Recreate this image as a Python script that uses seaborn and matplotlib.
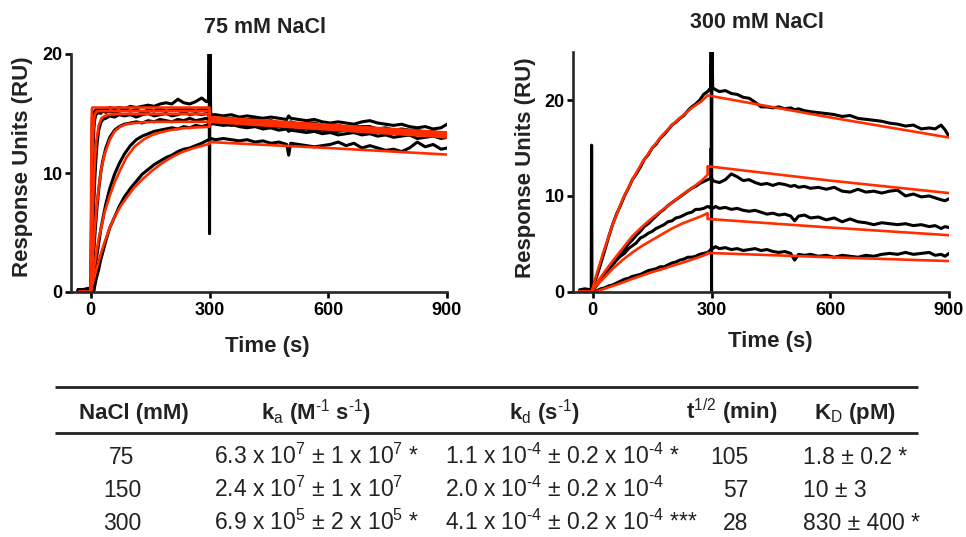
import matplotlib
matplotlib.use("Agg")
import matplotlib.pyplot as plt
import seaborn as sns
import pandas as pd
from matplotlib import font_manager

# --- Sensorgram data (time in s, response in RU) ---

# 75 mM NaCl: shared time grid of the black traces
time_75 = [-32, -20, -8, -2, 0, 2, 4, 6, 8, 10,
           13, 16, 20, 25, 30, 38, 48, 60, 72, 85,
           100, 115, 130, 145, 160, 175, 190, 205, 220, 235,
           250, 265, 280, 292, 298, 299, 300, 301, 303, 315,
           335, 355, 375, 395, 415, 435, 455, 475, 495, 500,
           505, 525, 545, 565, 585, 605, 625, 645, 665, 685,
           705, 725, 745, 765, 785, 805, 825, 845, 865, 885,
           900]

trace_75_a = [0.2, 0.2, 0.3, 0.3, 0.5, 8.0, 14.6, 15.0, 15.1, 15.2,
              15.3, 15.2, 15.4, 15.3, 15.4, 15.3, 15.5, 15.4, 15.5, 15.4,
              15.6, 15.5, 15.6, 15.7, 15.6, 15.8, 15.9, 15.8, 16.2, 15.9,
              15.8, 16.0, 16.3, 16.0, 16.1, 21.0, 4.9, 21.0, 14.9, 14.9,
              14.8, 14.9, 14.7, 14.8, 14.7, 14.6, 14.7, 14.6, 14.5, 14.8,
              14.6, 14.5, 14.4, 14.5, 14.3, 14.2, 14.3, 14.2, 14.1, 14.3,
              14.4, 14.2, 14.1, 14.0, 14.1, 13.9, 13.8, 13.9, 13.7, 13.8,
              14.1]
trace_75_b = [0.2, 0.2, 0.2, 0.3, 0.3, 4.0, 9.0, 12.2, 13.8, 14.5,
              14.9, 15.0, 15.1, 15.0, 15.2, 15.1, 15.2, 15.1, 15.2, 15.3,
              15.2, 15.3, 15.1, 15.3, 15.2, 15.4, 15.2, 15.3, 15.4, 15.3,
              15.4, 15.2, 15.4, 15.3, 15.2, 15.0, 14.9, 14.8, 14.6, 14.6,
              14.5, 14.6, 14.4, 14.5, 14.5, 14.3, 14.4, 14.2, 14.3, 14.2,
              14.3, 14.1, 14.2, 14.2, 14.0, 13.9, 14.0, 13.8, 13.9, 13.9,
              13.9, 13.7, 13.8, 13.6, 13.7, 13.6, 13.6, 13.4, 13.5, 13.3,
              13.4]
trace_75_c = [0.2, 0.2, 0.2, 0.2, 0.2, 1.5, 3.5, 5.8, 7.8, 9.4,
              11.2, 12.5, 13.6, 14.2, 14.5, 14.6, 14.8, 14.7, 14.9, 14.8,
              14.9, 14.7, 14.9, 15.0, 14.8, 14.9, 15.0, 14.8, 14.9, 15.1,
              14.9, 15.0, 14.9, 15.0, 14.9, 14.8, 14.7, 14.6, 14.5, 14.4,
              14.3, 14.4, 14.3, 14.2, 14.1, 14.2, 14.1, 14.0, 13.9, 14.0,
              13.9, 13.9, 13.8, 13.7, 13.8, 13.6, 13.7, 13.6, 13.5, 13.5,
              13.6, 13.4, 13.5, 13.4, 13.3, 13.2, 13.3, 13.2, 13.2, 13.0,
              13.2]
trace_75_d = [0.1, 0.1, 0.2, 0.2, 0.1, 0.6, 1.5, 2.6, 3.6, 4.6,
              6.0, 7.2, 8.6, 10.0, 11.0, 12.1, 13.0, 13.6, 13.9, 14.1,
              14.2, 14.3, 14.2, 14.4, 14.3, 14.5, 14.4, 14.3, 14.5, 14.4,
              14.6, 14.4, 14.5, 14.6, 14.5, 14.4, 14.3, 14.3, 14.2, 14.1,
              14.0, 14.1, 13.9, 13.8, 13.9, 13.7, 13.8, 13.6, 13.7, 13.5,
              13.6, 13.5, 13.4, 13.5, 13.3, 13.4, 13.2, 13.3, 13.4, 13.2,
              13.3, 13.1, 13.2, 13.0, 13.1, 13.2, 12.9, 13.0, 13.1, 12.9,
              13.0]
trace_75_e = [0.1, 0.1, 0.1, 0.1, 0.05, 0.1, 0.4, 0.8, 1.2, 1.7,
              2.5, 3.2, 4.1, 5.2, 6.1, 7.4, 8.7, 9.9, 10.8, 11.6,
              12.3, 12.8, 13.1, 13.3, 13.5, 13.6, 13.7, 13.8, 13.7, 13.9,
              13.8, 14.0, 13.9, 14.0, 14.1, 14.0, 14.2, 14.1, 14.1, 14.2,
              14.1, 14.0, 14.1, 13.9, 14.0, 13.9, 13.8, 13.9, 13.7, 13.8,
              13.7, 13.6, 13.7, 13.5, 13.6, 13.4, 13.5, 13.6, 13.4, 13.3,
              13.4, 13.5, 13.3, 13.4, 13.2, 13.3, 13.4, 13.2, 13.1, 13.3,
              13.4]
trace_75_f = [0.1, 0.1, 0.1, 0.1, 0.0, 0.0, 0.0, 0.0, 0.1, 0.5,
              1.0, 1.4, 1.9, 2.7, 3.3, 4.3, 5.4, 6.3, 7.2, 8.0,
              8.7, 9.3, 9.9, 10.3, 10.7, 11.0, 11.3, 11.5, 11.8, 12.0,
              12.1, 12.3, 12.5, 12.7, 12.8, 12.7, 12.8, 12.8, 12.9, 12.8,
              12.9, 12.8, 12.7, 12.8, 12.6, 12.7, 12.5, 12.6, 12.4, 11.5,
              12.5, 12.4, 12.3, 12.2, 12.3, 12.4, 12.6, 12.3, 12.5, 12.1,
              12.3, 12.1, 11.9, 12.0, 11.8, 12.1, 12.6, 12.2, 12.4, 12.0,
              12.1]

# 75 mM NaCl: fitted curves
fit_time_75 = [-30, 0, 1, 2, 3, 4, 6, 8, 10, 14, 20, 27, 35, 48, 60,
               75, 90, 110, 133, 155, 175, 200, 230, 260, 300, 300, 600, 900]
fit_75_a = [0, 0, 10.0, 14.5, 15.4, 15.5, 15.5, 15.5, 15.5, 15.5, 15.5, 15.5, 15.5, 15.5, 15.5,
            15.5, 15.5, 15.5, 15.5, 15.5, 15.5, 15.5, 15.5, 15.5, 15.5, 14.7, 14.05, 13.4]
fit_75_b = [0, 0, 4.5, 7.5, 9.8, 11.3, 13.3, 14.4, 14.9, 15.15, 15.2, 15.2, 15.2, 15.2, 15.2,
            15.2, 15.2, 15.2, 15.2, 15.2, 15.2, 15.2, 15.2, 15.2, 15.2, 14.6, 13.95, 13.3]
fit_75_c = [0, 0, 1.5, 3.0, 4.4, 5.6, 7.8, 9.5, 10.8, 12.7, 14.0, 14.6, 14.8, 14.9, 14.95,
            14.95, 14.95, 14.95, 14.95, 14.95, 14.95, 14.95, 14.95, 14.95, 14.95, 14.5, 13.85, 13.2]
fit_75_d = [0, 0, 0.6, 1.2, 1.8, 2.3, 3.4, 4.4, 5.3, 6.9, 8.8, 10.4, 11.6, 12.8, 13.5,
            13.9, 14.1, 14.2, 14.25, 14.3, 14.3, 14.3, 14.3, 14.3, 14.3, 14.4, 13.75, 13.1]
fit_75_e = [0, 0, 0.25, 0.5, 0.75, 1.0, 1.5, 2.0, 2.4, 3.3, 4.5, 5.5, 6.7, 8.1, 9.2,
            10.3, 11.3, 12.2, 12.8, 13.2, 13.4, 13.6, 13.75, 13.82, 13.88, 14.3, 13.65, 13.0]
fit_75_f = [0, 0, 0.15, 0.3, 0.45, 0.6, 0.85, 1.1, 1.35, 1.85, 2.6, 3.4, 4.2, 5.4, 6.3,
            7.2, 7.9, 8.8, 9.55, 10.2, 10.7, 11.25, 11.75, 12.1, 12.45, 12.6, 12.1, 11.55]

# 300 mM NaCl: shared time grid of the black traces
time_300 = [-33, -20, -6, -4, -3, -2, 0, 5, 10, 20,
            30, 40, 50, 60, 70, 80, 90, 100, 110, 120,
            130, 140, 150, 160, 170, 180, 190, 200, 210, 220,
            230, 240, 250, 260, 270, 280, 290, 296, 298, 299,
            300, 301, 303, 310, 320, 335, 350, 365, 380, 395,
            410, 425, 440, 455, 470, 485, 500, 510, 520, 535,
            550, 570, 590, 610, 630, 650, 670, 690, 710, 730,
            750, 770, 790, 810, 830, 850, 865, 880, 890, 900]

trace_300_a = [0.2, 0.3, 0.2, 0.3, 0.3, 0.4, 0.5, 1.0, 1.6, 2.9,
               4.3, 5.7, 7.0, 8.1, 9.0, 10.0, 10.8, 11.7, 12.3, 13.0,
               13.8, 14.3, 15.0, 15.4, 16.0, 16.4, 16.9, 17.4, 17.7, 18.1,
               18.4, 18.9, 19.3, 19.6, 20.0, 20.6, 20.9, 21.2, 21.3, 26.0,
               0.0, 26.0, 21.3, 21.1, 20.9, 21.0, 20.7, 20.6, 20.3, 20.2,
               19.8, 19.3, 19.3, 19.2, 19.3, 19.1, 19.2, 19.0, 19.1, 18.9,
               18.8, 18.7, 18.6, 18.5, 18.3, 18.4, 18.1, 18.0, 17.9, 17.8,
               17.6, 17.5, 17.3, 17.4, 17.0, 17.1, 17.0, 17.4, 16.9, 16.2]
trace_300_b = [0.1, 0.1, 0.1, 0.2, 15.3, 0.2, 0.2, 0.4, 0.7, 1.2,
               1.8, 2.3, 2.9, 3.4, 3.9, 4.4, 5.0, 5.4, 5.9, 6.3,
               6.8, 7.1, 7.5, 7.9, 8.3, 8.6, 9.0, 9.3, 9.6, 9.9,
               10.2, 10.5, 10.8, 11.0, 11.3, 11.5, 11.7, 11.8, 11.9, 15.0,
               11.7, 11.8, 11.6, 11.5, 11.4, 11.7, 12.3, 12.0, 11.6, 11.7,
               11.4, 11.2, 11.3, 11.1, 11.3, 11.2, 11.0, 11.1, 10.9, 11.0,
               10.8, 10.9, 10.7, 10.9, 10.5, 10.4, 10.7, 10.4, 10.5, 10.3,
               10.5, 10.6, 10.0, 10.2, 9.9, 10.0, 9.8, 9.6, 9.5, 9.7]
trace_300_c = [0.1, 0.1, 0.1, 0.1, 0.1, 0.1, 0.2, 0.4, 0.7, 1.3,
               1.8, 2.4, 2.8, 3.3, 3.7, 4.0, 4.5, 4.8, 5.1, 5.6,
               5.8, 6.1, 6.3, 6.6, 6.8, 7.0, 7.3, 7.4, 7.7, 7.8,
               8.0, 8.2, 8.3, 8.6, 8.6, 8.7, 8.9, 8.8, 8.9, 8.7,
               8.8, 8.7, 8.7, 8.9, 8.7, 8.8, 8.6, 8.7, 8.5, 8.4,
               8.5, 8.3, 8.1, 8.2, 8.0, 8.1, 7.9, 7.4, 7.9, 8.0,
               7.7, 7.8, 7.5, 7.7, 7.3, 7.6, 7.3, 7.2, 7.0, 7.2,
               7.1, 7.0, 7.1, 6.9, 7.0, 6.8, 6.9, 6.6, 6.8, 6.7]
trace_300_d = [0.1, 0.1, 0.1, 0.1, 0.1, 0.1, 0.0, 0.0, 0.1, 0.3,
               0.4, 0.6, 0.7, 0.9, 1.1, 1.3, 1.4, 1.6, 1.7, 1.8,
               2.0, 2.2, 2.3, 2.4, 2.6, 2.6, 2.8, 3.0, 3.1, 3.3,
               3.4, 3.6, 3.6, 3.7, 3.9, 4.0, 4.1, 4.3, 4.4, 4.5,
               4.4, 4.6, 4.5, 4.7, 4.5, 4.6, 4.4, 4.5, 4.3, 4.4,
               4.5, 4.3, 4.4, 4.2, 4.1, 4.2, 4.0, 3.3, 3.9, 3.8,
               3.9, 3.7, 3.8, 3.6, 3.8, 3.7, 3.6, 3.8, 3.7, 3.9,
               4.0, 3.9, 4.1, 3.9, 4.0, 4.1, 3.8, 3.9, 3.7, 4.0]

# 300 mM NaCl: fitted curves
fit_time_300 = [-35, -3, 0, 8, 25, 50, 75, 100, 125, 150, 175, 200, 225, 250, 275, 290, 290, 600, 900]
fit_300_a = [0, 0, 0.4, 1.6, 3.9, 7.0, 9.6, 11.7, 13.5, 15.0, 16.3, 17.4, 18.3, 19.2, 19.9, 20.5, 20.5, 18.2, 16.1]
fit_300_b = [0, 0, 0.3, 0.8, 1.8, 3.2, 4.5, 5.8, 6.8, 7.7, 8.5, 9.3, 10.1, 10.8, 11.6, 12.2, 13.1, 11.6, 10.3]
fit_300_c = [0, 0, 0.2, 0.6, 1.3, 2.4, 3.3, 4.1, 4.8, 5.4, 6.0, 6.6, 7.1, 7.5, 7.9, 8.2, 7.6, 6.7, 5.9]
fit_300_d = [0, 0, 0, 0, 0.25, 0.6, 0.95, 1.35, 1.7, 2.05, 2.35, 2.7, 3.0, 3.35, 3.7, 3.95, 4.05, 3.6, 3.2]

# --- Kinetics table ---
table_header = ['NaCl (mM)',
                r'k$_\mathrm{a}$ (M$^{‐1}$ s$^{‐1}$)',
                r'k$_\mathrm{d}$ (s$^{‐1}$)',
                r't$^{1/2}$ (min)',
                r'K$_\mathrm{D}$ (pM)']
nacl_mM = ['75', '150', '300']
ka_values = [r'6.3 x 10$^{7}$ ± 1 x 10$^{7}$ *',
             r'2.4 x 10$^{7}$ ± 1 x 10$^{7}$',
             r'6.9 x 10$^{5}$ ± 2 x 10$^{5}$ *']
kd_values = [r'1.1 x 10$^{‐4}$ ± 0.2 x 10$^{‐4}$ *',
             r'2.0 x 10$^{‐4}$ ± 0.2 x 10$^{‐4}$',
             r'4.1 x 10$^{‐4}$ ± 0.2 x 10$^{‐4}$ ***']
half_life_min = ['105', '57', '28']
KD_pM = ['1.8 ± 0.2 *', '10 ± 3', '830 ± 400 *']

RED = '#FF2D00'
TEXT = '#222222'

sns.set_style('ticks')
names = {f.name for f in font_manager.fontManager.ttflist}
NARROW = 'Liberation Sans Narrow' if 'Liberation Sans Narrow' in names else 'Liberation Sans'
plt.rcParams['font.family'] = ['Liberation Sans', 'DejaVu Sans']
plt.rcParams['mathtext.fontset'] = 'custom'
plt.rcParams['mathtext.rm'] = 'Liberation Sans'
plt.rcParams['mathtext.it'] = 'Liberation Sans:italic'
plt.rcParams['mathtext.bf'] = 'Liberation Sans:bold'


def long_frame(time, traces):
    return pd.concat([pd.DataFrame({'time': time, 'ru': v, 'trace': i})
                      for i, v in enumerate(traces)], ignore_index=True)


def draw_panel(ax, time, traces, fit_time, fits, ymax, yticks):
    sns.lineplot(data=long_frame(time, traces), x='time', y='ru', units='trace',
                 estimator=None, sort=False, color='black', linewidth=2.2, ax=ax, legend=False)
    sns.lineplot(data=long_frame(fit_time, fits), x='time', y='ru', units='trace',
                 estimator=None, sort=False, color=RED, linewidth=1.9, ax=ax, legend=False)
    ax.set_xlim(-50, 900)
    ax.set_ylim(0, ymax)
    ax.set_xticks([0, 300, 600, 900])
    ax.set_yticks(yticks)
    ax.set_xlabel('')
    ax.set_ylabel('')
    sns.despine(ax=ax)
    for side in ['left', 'bottom']:
        ax.spines[side].set_linewidth(1.9)
    ax.tick_params(axis='both', length=4.5, width=1.9, labelsize=13, colors='black')
    ax.tick_params(axis='x', pad=3)
    ax.tick_params(axis='y', pad=1.5)
    for lab in ax.get_xticklabels() + ax.get_yticklabels():
        lab.set_fontweight('bold')


fig = plt.figure(figsize=(9.66, 5.37), dpi=100)

# overlay in pixel coordinates for titles, labels and the table
ov = fig.add_axes([0, 0, 1, 1], zorder=-1)
ov.set_xlim(0, 966)
ov.set_ylim(537, 0)
ov.axis('off')

ax_75 = fig.add_axes([71 / 966, 1 - 292 / 537, 376 / 966, 238 / 537])
draw_panel(ax_75, time_75,
           [trace_75_a, trace_75_b, trace_75_c, trace_75_d, trace_75_e, trace_75_f],
           fit_time_75, [fit_75_a, fit_75_b, fit_75_c, fit_75_d, fit_75_e, fit_75_f],
           20, [0, 10, 20])

ax_300 = fig.add_axes([573 / 966, 1 - 291.7 / 537, 376 / 966, 239.4 / 537])
draw_panel(ax_300, time_300,
           [trace_300_a, trace_300_b, trace_300_c, trace_300_d],
           fit_time_300, [fit_300_a, fit_300_b, fit_300_c, fit_300_d],
           25, [0, 10, 20])

# panel titles and axis labels
label_kw = dict(fontsize=16, fontweight='bold', color=TEXT)
ov.text(265, 33, '75 mM NaCl', ha='center', va='baseline', fontsize=15.5, fontweight='bold', color=TEXT)
ov.text(757, 28, '300 mM NaCl', ha='center', va='baseline', fontsize=15.5, fontweight='bold', color=TEXT)
ov.text(267, 352, 'Time (s)', ha='center', va='baseline', **label_kw)
ov.text(770, 347, 'Time (s)', ha='center', va='baseline', **label_kw)
ov.text(22.5, 167, 'Response Units (RU)', rotation=90, ha='center', va='center', **label_kw)
ov.text(525, 168, 'Response Units (RU)', rotation=90, ha='center', va='center', **label_kw)

# table rules
ov.hlines([387, 433], 55, 918, color=TEXT, linewidth=2.0)

# header row
head_x = [134, 316, 544, 732, 855]
for x, h in zip(head_x, table_header):
    ov.text(x, 419, h, ha='center', va='baseline', fontsize=16, fontweight='bold', color=TEXT)

# body rows
val_size = 18 if NARROW != 'Liberation Sans' else 16.5
body_kw = dict(va='baseline', fontsize=val_size, family=[NARROW, 'DejaVu Sans'], color=TEXT)
for row, y in enumerate([464, 497, 530]):
    ov.text(122, y, nacl_mM[row], ha='center', **body_kw)
    ov.text(214, y, ka_values[row], ha='left', **body_kw)
    ov.text(445, y, kd_values[row], ha='left', **body_kw)
    ov.text(748, y, half_life_min[row], ha='right', **body_kw)
    ov.text(803, y, KD_pM[row], ha='left', **body_kw)

fig.savefig('out.png', dpi=100)
